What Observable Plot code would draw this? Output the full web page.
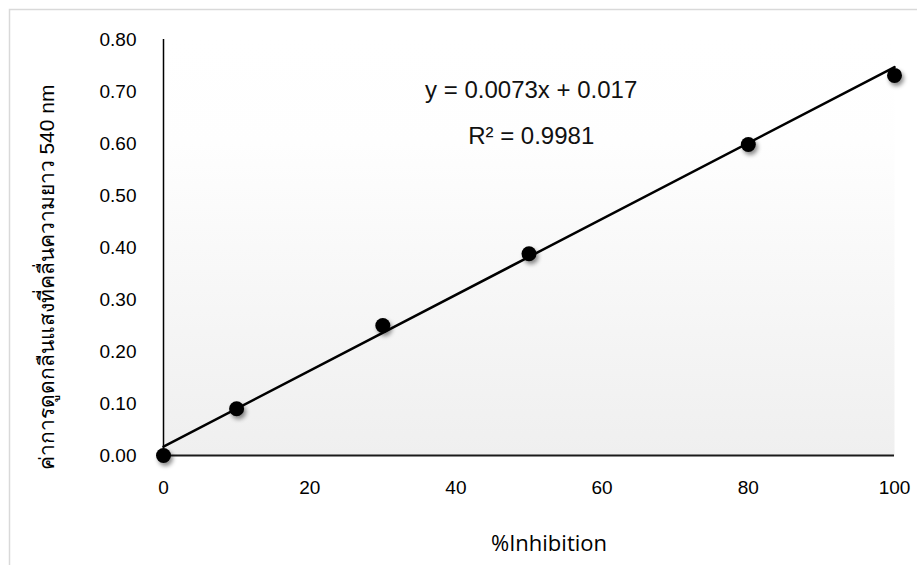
<!DOCTYPE html>
<html>
<head>
<meta charset="utf-8">
<script src="https://cdn.jsdelivr.net/npm/d3@7"></script>
<script src="https://cdn.jsdelivr.net/npm/@observablehq/plot@0.6"></script>
<style>
  html, body { margin: 0; padding: 0; background: #fff; }
  #chart svg { display: block; }
  #chart g[aria-label="dot"] circle { filter: drop-shadow(2px 3px 2px rgba(0,0,0,0.45)); }
</style>
</head>
<body>
<div id="chart"></div>
<script>
const inhibition = [0, 10, 30, 50, 80, 100];
const absorbance = [0.000, 0.090, 0.250, 0.388, 0.598, 0.731];
const trendX = [0, 100];
const trendY = [0.017, 0.747];
const xTicks = [0, 20, 40, 60, 80, 100];
const yTicks = [0, 0.1, 0.2, 0.3, 0.4, 0.5, 0.6, 0.7, 0.8];
const equationText = "y = 0.0073x + 0.017";
const r2Text = "R² = 0.9981";
const xLabel = "%Inhibition";
const yLabel = "ค่าการดูดกลืนแสงที่คลื่นความยาว 540 nm";

const points = inhibition.map((x, i) => ({x, y: absorbance[i]}));
const trend = trendX.map((x, i) => ({x, y: trendY[i]}));

const plot = Plot.plot({
  width: 917,
  height: 565,
  marginLeft: 163,
  marginRight: 23,
  marginTop: 39,
  marginBottom: 110,
  style: {fontFamily: "'Liberation Sans', Arial, sans-serif", fontSize: "19px", color: "#000", background: "transparent"},
  x: {domain: [0, 100]},
  y: {domain: [0, 0.8]},
  marks: [
    Plot.frame({fill: "url(#bgGrad)", stroke: "none"}),
    Plot.axisX({ticks: xTicks, tickSize: 0, tickPadding: 25, label: null, fontSize: 19}),
    Plot.axisY({ticks: yTicks, tickSize: 0, tickPadding: 27, label: null, fontSize: 19, tickFormat: d => d.toFixed(2)}),
    Plot.ruleX([0], {stroke: "#000", strokeWidth: 1.5}),
    Plot.ruleY([0], {stroke: "#1a1a1a", strokeWidth: 2.2}),
    Plot.line(trend, {x: "x", y: "y", stroke: "#000", strokeWidth: 2.5}),
    Plot.dot(points, {x: "x", y: "y", r: 7.5, fill: "#000", stroke: "none"}),
    Plot.text([equationText], {x: 50.3, y: 0.687, text: d => d, fontSize: 24, textAnchor: "middle", lineAnchor: "bottom", fill: "#111"}),
    Plot.text([r2Text], {x: 50.3, y: 0.60, text: d => d, fontSize: 24, textAnchor: "middle", lineAnchor: "bottom", fill: "#111"}),
    Plot.text([xLabel], {frameAnchor: "bottom", dx: 20, dy: 88, text: d => d, fontSize: 22, fontFamily: "'Open Sans', 'Noto Sans', sans-serif", textAnchor: "middle", lineAnchor: "middle", fill: "#000"}),
    Plot.text([yLabel], {frameAnchor: "left", dx: -116, dy: 30, text: d => d, rotate: -90, fontSize: 21, textAnchor: "middle", lineAnchor: "middle", fill: "#000"})
  ]
});

const svg = d3.select(plot);
const defs = svg.insert("defs", ":first-child");
const g = defs.append("linearGradient").attr("id", "bgGrad").attr("x1", 0).attr("y1", 0).attr("x2", 0).attr("y2", 1);
g.append("stop").attr("offset", "0%").attr("stop-color", "#ffffff");
g.append("stop").attr("offset", "25%").attr("stop-color", "#fefefe");
g.append("stop").attr("offset", "100%").attr("stop-color", "#efefef");
svg.insert("rect", "defs + *").attr("x", 9.5).attr("y", 9.5).attr("width", 1000).attr("height", 1000)
  .attr("fill", "none").attr("stroke", "#d9d9d9").attr("stroke-width", 1.5);

document.getElementById("chart").appendChild(plot);
</script>
</body>
</html>
